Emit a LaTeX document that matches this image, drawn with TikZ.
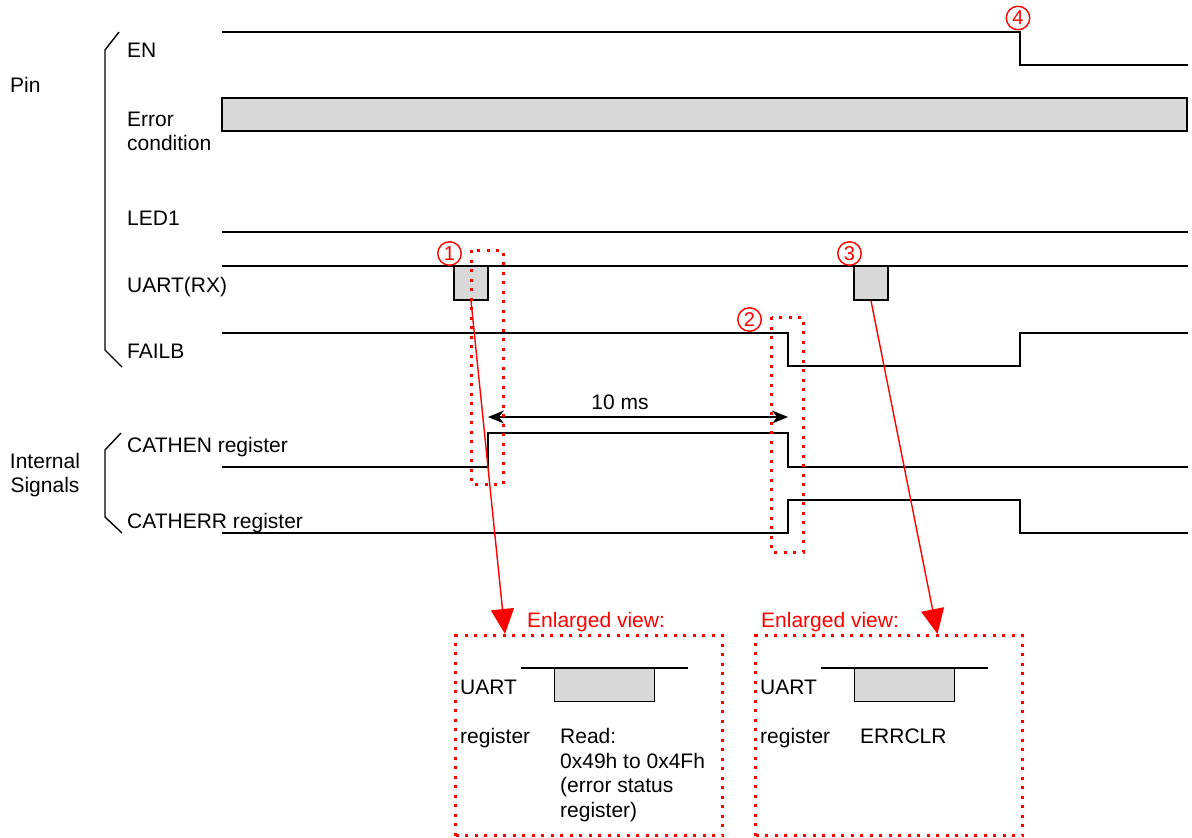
\documentclass[tikz,border=0pt]{standalone}
\usepackage{fontspec}
\setmainfont{Liberation Sans}
\usetikzlibrary{arrows.meta}
\definecolor{sig}{HTML}{D9D9D9}
\definecolor{hl}{HTML}{FF0000}
\begin{document}
\begin{tikzpicture}[x=1pt,y=-1pt,
  wave/.style={line width=1.4pt, black, line join=miter},
  lbl/.style={anchor=base west, inner sep=0pt, font=\fontsize{21}{24}\selectfont},
  clbl/.style={anchor=base, inner sep=0pt, font=\fontsize{21}{24}\selectfont},
  rlbl/.style={anchor=base west, inner sep=0pt, text=hl, font=\fontsize{21}{24}\selectfont},
  pulse/.style={draw, line width=1.4pt, fill=sig, minimum width=34pt, minimum height=34pt, inner sep=0pt},
  bigpulse/.style={draw, line width=1.4pt, fill=sig, minimum width=100pt, minimum height=33pt, inner sep=0pt, anchor=north west},
  zoombox/.style={draw=hl, line width=3pt, dash pattern=on 3pt off 6.5pt},
  num/.style={circle, draw=hl, line width=1.4pt, text=hl, inner sep=0pt, minimum size=23.5pt, font=\fontsize{20}{20}\selectfont},
  redarrow/.style={draw=hl, line width=1.4pt, -{Triangle[length=25pt,width=23pt,fill=hl]}},
  dimarrow/.style={line width=1.4pt, {Stealth[length=16pt,width=13pt]}-{Stealth[length=16pt,width=13pt]}}
]
\useasboundingbox (0,0) rectangle (1192,838);

% group labels and brackets
\node[lbl] (pin) at (10,92) {Pin};
\node[clbl] (int1) at (45,468) {Internal};
\node[clbl] (int2) at (45,492) {Signals};
\draw[wave] (119,32) -- (105,50) -- (105,350) -- (122,367);
\draw[wave] (121,433) -- (105,450) -- (105,517) -- (122,533);

% signal labels
\node[lbl] (en) at (127,57) {EN};
\node[lbl] (err1) at (127,126) {Error};
\node[lbl] (err2) at (127,150) {condition};
\node[lbl] (led) at (127,225) {LED1};
\node[lbl] (uart) at (127,292) {UART(RX)};
\node[lbl] (failb) at (127,358) {FAILB};
\node[lbl] (cathen) at (127,452) {CATHEN register};
\node[lbl] (catherr) at (127,528) {CATHERR register};

% waveforms
\draw[wave] (222,32) -- (1020,32) -- (1020,65) -- (1188,65);
\filldraw[wave, fill=sig] (222,98) rectangle (1187,131);
\draw[wave] (222,232) -- (1188,232);
\draw[wave] (222,266) -- (1188,266);
\node[pulse] (p1) at (471,283) {};
\node[pulse] (p3) at (871,283) {};
\draw[wave] (222,333) -- (788,333) -- (788,366) -- (1020,366) -- (1020,333) -- (1188,333);
\draw[wave] (222,467) -- (488,467) -- (488,433) -- (788,433) -- (788,467) -- (1188,467);
\draw[wave] (222,533) -- (788,533) -- (788,500) -- (1020,500) -- (1020,533) -- (1188,533);

% 10 ms
\coordinate (a1) at (488,417);
\coordinate (a2) at (788,417);
\draw[dimarrow] (a1) -- (a2);
\node[clbl] (tenms) at (620,409) {10 ms};

% red dotted highlight boxes
\draw[zoombox] (471.5,250) rectangle (503,484);
\draw[zoombox] (771.5,317) rectangle (803,552);

% circled numbers
\node[num] (n1) at (449.5,253.5) {1};
\node[num] (n2) at (749.5,319.5) {2};
\node[num] (n3) at (849.5,253.5) {3};
\node[num] (n4) at (1018,18) {4};

% enlarged views
\node[zoombox, minimum width=267pt, minimum height=200pt, anchor=north west, inner sep=0pt] (e1) at (454,634) {};
\node[zoombox, minimum width=267pt, minimum height=200pt, anchor=north west, inner sep=0pt] (e3) at (754,634) {};
\node[rlbl] (ev1) at (527,627) {Enlarged view:};
\node[rlbl] (ev3) at (761,627) {Enlarged view:};

\coordinate (t1) at (505,634);
\coordinate (t3) at (937.5,634);
\draw[redarrow] (p1.south) -- (t1);
\draw[redarrow] (p3.south) -- (t3);

% enlarged view 1
\draw[wave] (521,668) -- (688,668);
\node[bigpulse] (b1) at (554,668) {};
\node[lbl] (u1) at (460,694) {UART};
\node[lbl] (r1) at (460,743) {register};
\node[lbl] (rd1) at (560,743) {Read:};
\node[lbl] (rd2) at (560,768) {0x49h to 0x4Fh};
\node[lbl] (rd3) at (560,792) {(error status};
\node[lbl] (rd4) at (560,817) {register)};

% enlarged view 3
\draw[wave] (821,668) -- (988,668);
\node[bigpulse] (b3) at (854,668) {};
\node[lbl] (u3) at (760,694) {UART};
\node[lbl] (r3) at (760,743) {register};
\node[lbl] (clr) at (860,743) {ERRCLR};
\end{tikzpicture}
\end{document}
